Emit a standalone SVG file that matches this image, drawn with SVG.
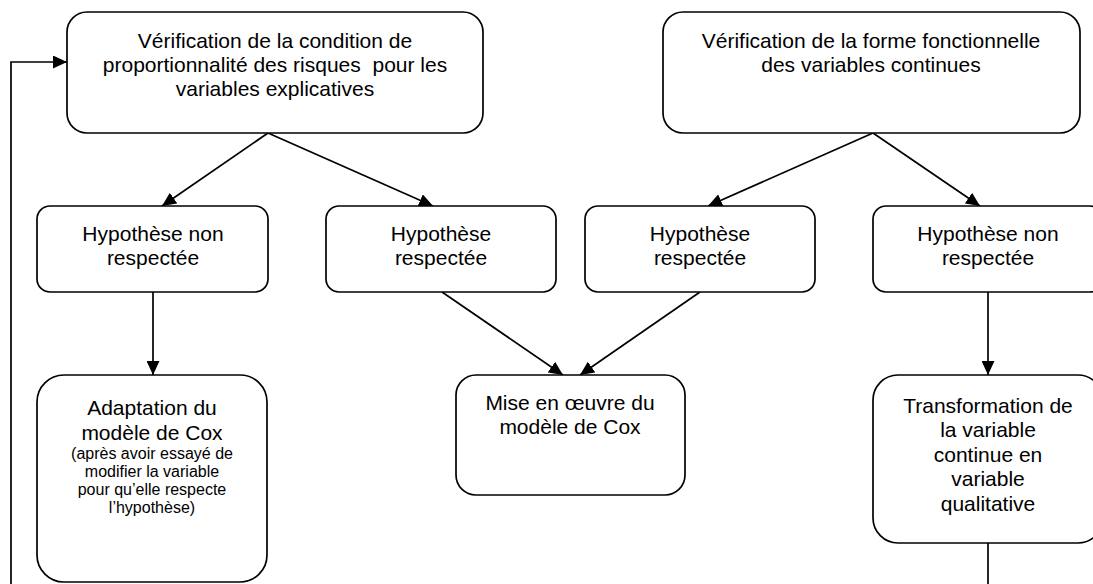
<svg xmlns="http://www.w3.org/2000/svg" width="1093" height="584" viewBox="0 0 1093 584">
<style>
.box{fill:#fff;stroke:#000;stroke-width:1.7}
.t{font-family:"Liberation Sans",Arial,sans-serif;font-size:21px;fill:#000;text-anchor:middle}
.s{font-family:"Liberation Sans",Arial,sans-serif;font-size:16px;fill:#000;text-anchor:middle}
.c{fill:none;stroke:#000;stroke-width:1.7}
</style>
<defs>
<marker id="arr" viewBox="0 0 14 13" refX="14" refY="6.5" markerWidth="14" markerHeight="13" markerUnits="userSpaceOnUse" orient="auto">
<path d="M0,0 L14,6.5 L0,13 z" fill="#000"/>
</marker>
</defs>
<rect width="1093" height="584" fill="#fff"/>
<g id="connectors">
<path class="c" d="M268,133 L162,206" marker-end="url(#arr)"/>
<path class="c" d="M268,133 L433,206" marker-end="url(#arr)"/>
<path class="c" d="M873,133 L708,206" marker-end="url(#arr)"/>
<path class="c" d="M873,133 L980,206" marker-end="url(#arr)"/>
<path class="c" d="M153,292 L153,375" marker-end="url(#arr)"/>
<path class="c" d="M988,292 L988,375" marker-end="url(#arr)"/>
<path class="c" d="M442,292 L563,375" marker-end="url(#arr)"/>
<path class="c" d="M700,292 L580,375" marker-end="url(#arr)"/>
<path class="c" d="M988,543 V600 H11 V62 H67" marker-end="url(#arr)"/>
</g>
<g id="nodeA">
<rect class="box" x="67" y="12" width="416" height="121" rx="20"/>
<text class="t" x="275" y="48">Vérification de la condition de</text>
<text class="t" x="275" y="72">proportionnalité des risques&#160; pour les</text>
<text class="t" x="275" y="96">variables explicatives</text>
</g>
<g id="nodeB">
<rect class="box" x="663" y="12" width="417" height="121" rx="20"/>
<text class="t" x="871" y="48">Vérification de la forme fonctionnelle</text>
<text class="t" x="871" y="72">des variables continues</text>
</g>
<g id="nodeC">
<rect class="box" x="37" y="206" width="231" height="86" rx="13"/>
<text class="t" x="153" y="241">Hypothèse non</text>
<text class="t" x="153" y="265">respectée</text>
</g>
<g id="nodeD">
<rect class="box" x="326" y="206" width="230" height="86" rx="13"/>
<text class="t" x="441" y="241">Hypothèse</text>
<text class="t" x="441" y="265">respectée</text>
</g>
<g id="nodeE">
<rect class="box" x="585" y="206" width="230" height="86" rx="13"/>
<text class="t" x="700" y="241">Hypothèse</text>
<text class="t" x="700" y="265">respectée</text>
</g>
<g id="nodeF">
<rect class="box" x="873" y="206" width="230" height="86" rx="13"/>
<text class="t" x="988" y="241">Hypothèse non</text>
<text class="t" x="988" y="265">respectée</text>
</g>
<g id="nodeG">
<rect class="box" x="37" y="375" width="230" height="207" rx="27"/>
<text class="t" x="152" y="415">Adaptation du</text>
<text class="t" x="152" y="440">modèle de Cox</text>
<text class="s" x="152" y="459">(après avoir essayé de</text>
<text class="s" x="152" y="477">modifier la variable</text>
<text class="s" x="152" y="495">pour qu’elle respecte</text>
<text class="s" x="152" y="513">l’hypothèse)</text>
</g>
<g id="nodeH">
<rect class="box" x="456" y="375" width="229" height="120" rx="20"/>
<text class="t" x="570" y="410">Mise en œuvre du</text>
<text class="t" x="570" y="434">modèle de Cox</text>
</g>
<g id="nodeI">
<rect class="box" x="873" y="375" width="230" height="168" rx="25"/>
<text class="t" x="988" y="413">Transformation de</text>
<text class="t" x="988" y="437">la variable</text>
<text class="t" x="988" y="462">continue en</text>
<text class="t" x="988" y="486">variable</text>
<text class="t" x="988" y="511">qualitative</text>
</g>
</svg>
